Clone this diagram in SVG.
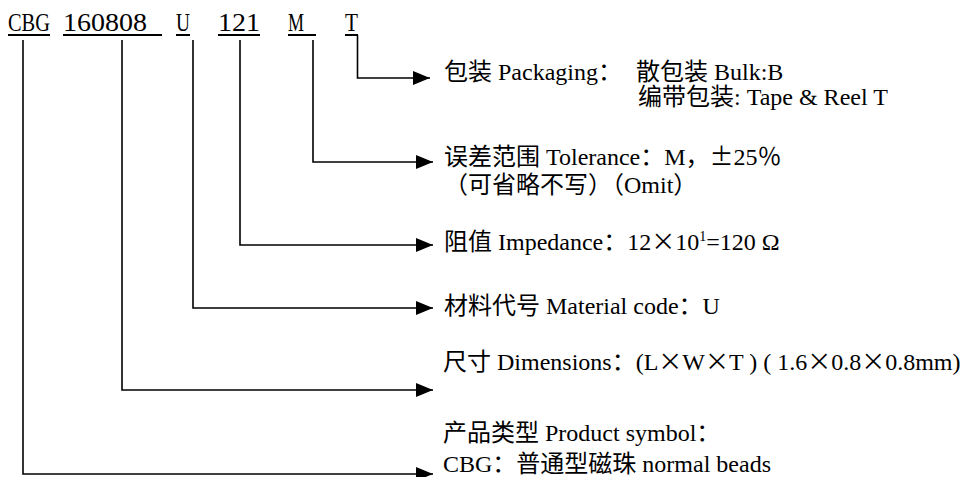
<svg xmlns="http://www.w3.org/2000/svg" width="965" height="477" viewBox="0 0 965 477">
<style>
.code{font-family:"Liberation Serif","Noto Sans CJK SC",serif;font-size:26px;fill:#000}
.ul{stroke:#000;stroke-width:2;fill:none}
.conn{stroke:#000;stroke-width:1.6;fill:none}
.lbl{font-family:"Liberation Serif","Noto Sans CJK SC",serif;font-size:24px;fill:#000}
.cjk{font-family:"Noto Sans CJK SC",sans-serif;font-feature-settings:"fwid"}
</style>
<defs>
<marker id="arr" markerUnits="userSpaceOnUse" markerWidth="18" markerHeight="14" refX="17" refY="7" orient="auto">
<path d="M0,0 L17,7 L0,14 Z" fill="#000"/>
</marker>
</defs>
<rect width="965" height="477" fill="#fff"/>
<g id="code">
<text class="code" x="8" y="31" textLength="42" lengthAdjust="spacingAndGlyphs">CBG</text>
<text class="code" x="63" y="31" textLength="84" lengthAdjust="spacingAndGlyphs">160808</text>
<text class="code" x="176" y="31" textLength="14" lengthAdjust="spacingAndGlyphs">U</text>
<text class="code" x="218" y="31" textLength="42" lengthAdjust="spacingAndGlyphs">121</text>
<text class="code" x="288" y="31" textLength="16" lengthAdjust="spacingAndGlyphs">M</text>
<text class="code" x="345" y="31" textLength="13" lengthAdjust="spacingAndGlyphs">T</text>
<path class="ul" d="M8,35H50M63,35H162M176,35H190M218,35H260M288,35H316M345,35H358"/>
</g>
<g id="connectors">
<path class="conn" d="M23,40V474H433" marker-end="url(#arr)"/>
<path class="conn" d="M122,40V390H433" marker-end="url(#arr)"/>
<path class="conn" d="M193,40V308H433" marker-end="url(#arr)"/>
<path class="conn" d="M240,40V245H433" marker-end="url(#arr)"/>
<path class="conn" d="M313,40V162H433" marker-end="url(#arr)"/>
<path class="conn" d="M357.5,35V78H430" marker-end="url(#arr)"/>
</g>
<g id="packaging">
<text class="lbl" x="444" y="80">包装 Packaging：</text>
<text class="lbl" x="636" y="80">散包装 Bulk:B</text>
<text class="lbl" x="638" y="105">编带包装: Tape &amp; Reel T</text>
</g>
<g id="tolerance">
<text class="lbl" x="444" y="165">误差范围 Tolerance：M，<tspan class="cjk">±</tspan>25<tspan class="cjk">％</tspan></text>
<text class="lbl" x="444" y="193">（可省略不写）（Omit）</text>
</g>
<g id="impedance">
<text class="lbl" x="444" y="250">阻值 Impedance：12<tspan class="cjk">×</tspan>10<tspan font-size="14" dy="-9">1</tspan><tspan dy="9">=120 Ω</tspan></text>
</g>
<g id="material">
<text class="lbl" x="444" y="314">材料代号 Material code：U</text>
</g>
<g id="dimensions">
<text class="lbl" x="443" y="370">尺寸 Dimensions：(L<tspan class="cjk">×</tspan>W<tspan class="cjk">×</tspan>T ) ( 1.6<tspan class="cjk">×</tspan>0.8<tspan class="cjk">×</tspan>0.8mm)</text>
</g>
<g id="product">
<text class="lbl" x="443" y="441">产品类型 Product symbol：</text>
<text class="lbl" x="443" y="472">CBG：普通型磁珠 normal beads</text>
</g>
</svg>
